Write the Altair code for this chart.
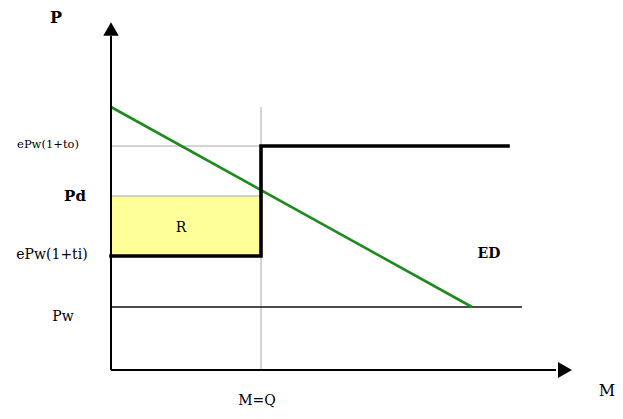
import altair as alt
import pandas as pd

# Economic quantities (chart units)
Q = 3.0            # M = Q
PW = 1.26          # world price
P_TI = 2.28        # ePw(1+ti)
P_D = 3.48         # Pd
P_TO = 4.48        # ePw(1+to)
ED_TOP = 5.26      # intercept of ED curve
ED_END_X = 7.22    # ED meets Pw
STEP_END_X = 7.94  # end of thick supply line
PW_END_X = 8.22    # end of Pw line
X_AXIS_END = 8.9
Y_AXIS_END = 6.68
X_ARROW = 9.08
Y_ARROW = 6.82

# label texts and positions (chart units)
lab_text = ["ePw(1+to)", "ePw(1+ti)", "Pw", "R", "M=Q", "M"]
lab_x = [-1.26, -1.18, -0.96, 1.4, 2.92, 9.92]
lab_y = [4.5, 2.3, 1.06, 2.84, -0.62, -0.42]
lab_size = [11.5, 14, 14, 14, 14, 16]

bold_text = ["P", "Pd", "ED"]
bold_x = [-1.1, -0.72, 7.56]
bold_y = [7.05, 3.48, 2.32]
bold_size = [16, 15, 14]

FONT = "DejaVu Serif"

W, H = 607, 403
xs = alt.Scale(domain=[-2.06, 10.08], range=[0, W], nice=False, zero=False)
ys = alt.Scale(domain=[-0.82, 7.24], range=[H, 0], nice=False, zero=False)

def X(f="x"):
    return alt.X(f"{f}:Q", scale=xs, axis=None)

def Y(f="y"):
    return alt.Y(f"{f}:Q", scale=ys, axis=None)

# yellow revenue rectangle
rect_df = pd.DataFrame({"x": [0.0], "x2": [Q], "y": [P_TI], "y2": [P_D]})
rect = alt.Chart(rect_df).mark_rect(color="#ffff99").encode(
    x=X(), x2="x2:Q", y=Y(), y2="y2:Q")

# thin gray guide lines
gray_df = pd.DataFrame({
    "x": [0.0, 0.0, Q], "x2": [Q, Q, Q],
    "y": [P_TO, P_D, 0.0], "y2": [P_TO, P_D, ED_TOP]})
gray = alt.Chart(gray_df).mark_rule(color="#a8a8a8", strokeWidth=1).encode(
    x=X(), x2="x2:Q", y=Y(), y2="y2:Q")

# Pw line
pw_df = pd.DataFrame({"x": [0.0], "x2": [PW_END_X], "y": [PW], "y2": [PW]})
pw = alt.Chart(pw_df).mark_rule(color="#111111", strokeWidth=1.5).encode(
    x=X(), x2="x2:Q", y=Y(), y2="y2:Q")

# ED curve
ed_df = pd.DataFrame({"x": [0.0, ED_END_X], "y": [ED_TOP, PW]})
ed = alt.Chart(ed_df).mark_line(color="#1f8a1f", strokeWidth=2.6).encode(
    x=X(), y=Y())

# thick step supply line
step_df = pd.DataFrame({"x": [0.0, Q, Q, STEP_END_X],
                        "y": [P_TI, P_TI, P_TO, P_TO],
                        "o": [0, 1, 2, 3]})
step = alt.Chart(step_df).mark_line(color="black", strokeWidth=3.6,
                                    strokeJoin="miter", strokeCap="square").encode(
    x=X(), y=Y(), order="o:O")

# axes
ax_df = pd.DataFrame({"x": [0.0, 0.0], "x2": [X_AXIS_END, 0.0],
                      "y": [0.0, 0.0], "y2": [0.0, Y_AXIS_END]})
axes = alt.Chart(ax_df).mark_rule(color="black", strokeWidth=2).encode(
    x=X(), x2="x2:Q", y=Y(), y2="y2:Q")

up_df = pd.DataFrame({"x": [0.0], "y": [Y_ARROW]})
up = alt.Chart(up_df).mark_point(shape="triangle-up", size=240, filled=True,
                                 color="black", opacity=1).encode(x=X(), y=Y())
right_df = pd.DataFrame({"x": [X_ARROW], "y": [0.0]})
right = alt.Chart(right_df).mark_point(shape="triangle-right", size=260, filled=True,
                                       color="black", opacity=1).encode(x=X(), y=Y())

# labels
lab_df = pd.DataFrame({"t": lab_text, "x": lab_x, "y": lab_y, "s": lab_size})
labels = alt.Chart(lab_df).mark_text(font=FONT, color="black",
                                     align="center", baseline="middle").encode(
    x=X(), y=Y(), text="t:N",
    size=alt.Size("s:Q", scale=None, legend=None))

bold_df = pd.DataFrame({"t": bold_text, "x": bold_x, "y": bold_y, "s": bold_size})
blabels = alt.Chart(bold_df).mark_text(font=FONT, fontWeight="bold",
                                       color="black", align="center",
                                       baseline="middle").encode(
    x=X(), y=Y(), text="t:N",
    size=alt.Size("s:Q", scale=None, legend=None))

chart = alt.layer(rect, gray, pw, ed, step, axes, up, right, labels, blabels).properties(
    width=W, height=H,
    autosize=alt.AutoSizeParams(type="none"),
    padding=0,
    background="white",
).configure_view(stroke=None)

chart.save("out.html", embed_options={"renderer": "svg", "actions": False})
